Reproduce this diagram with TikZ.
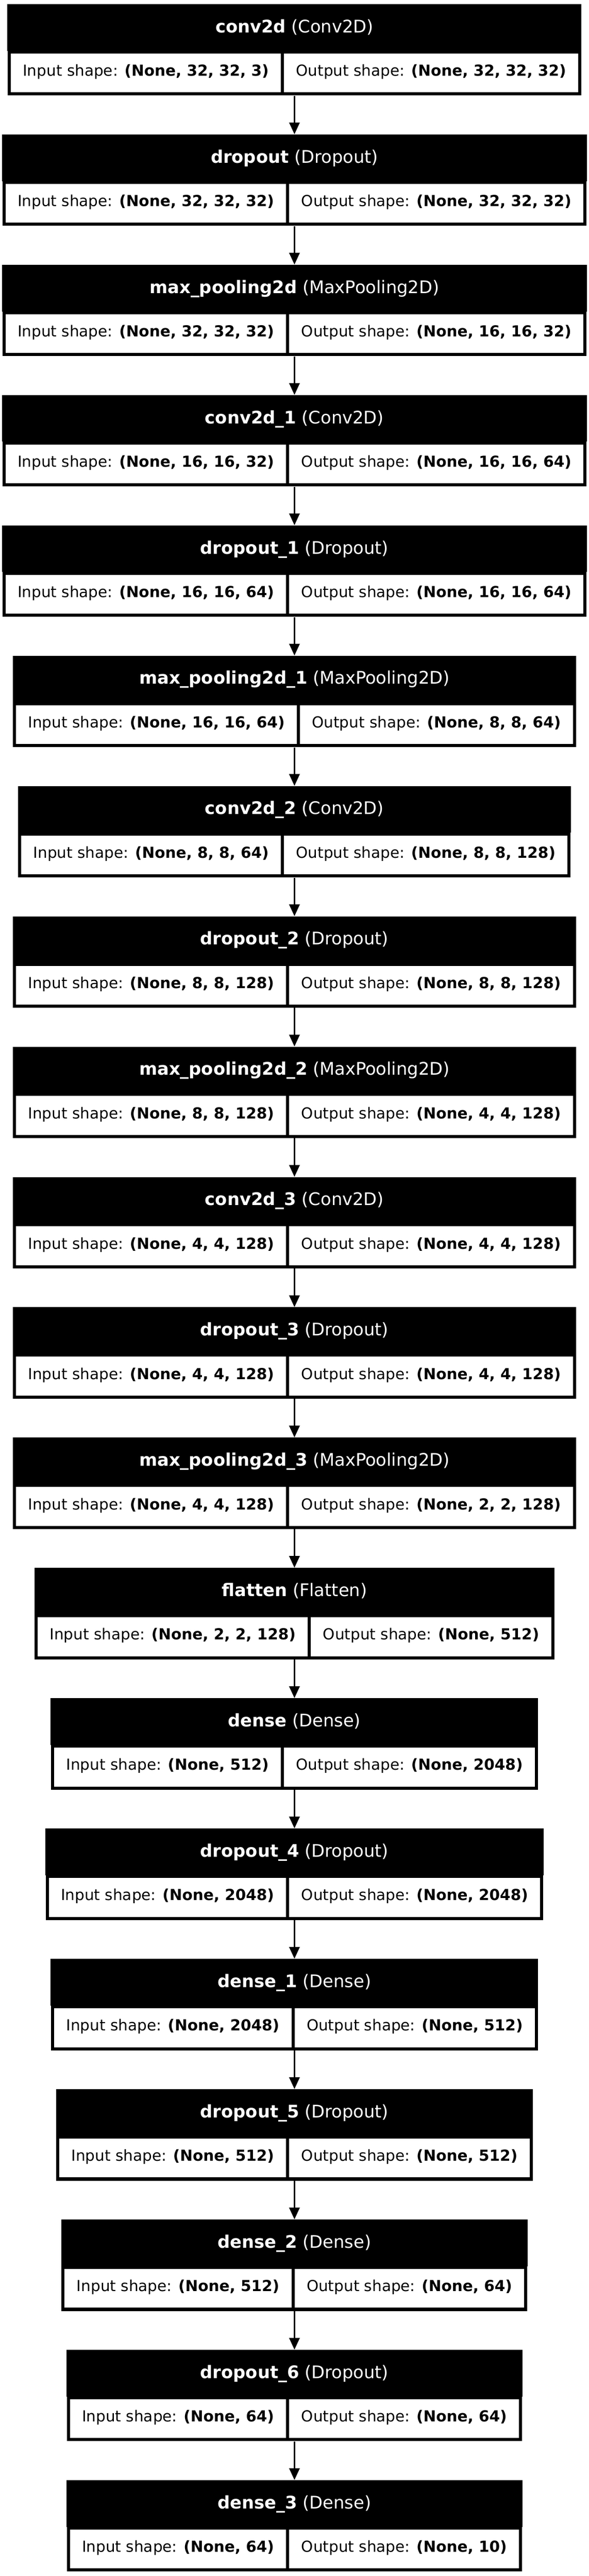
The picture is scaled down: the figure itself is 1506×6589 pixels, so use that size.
\documentclass[tikz,border=0pt]{standalone}
\usepackage{fontspec}
\setmainfont{DejaVu Sans}
\usetikzlibrary{arrows.meta,fit}

\tikzset{
    cell/.style={rectangle, fill=white, minimum height=35.8pt, inner xsep=11.1pt, inner ysep=0pt,
        text height=10.6pt, text depth=4.9pt, font=\fontsize{14}{17}\selectfont},
    shaperow/.style={fill=black, inner sep=2.88pt, column sep=2.88pt, ampersand replacement=\&},
    head/.style={rectangle, fill=black, inner sep=0pt},
    headtext/.style={text=white, inner sep=0pt, text height=12.6pt, text depth=3.2pt,
        font=\fontsize{16}{19}\selectfont},
    flow/.style={-{Triangle[length=10.8pt,width=9.6pt]}, line width=1.4pt},
}

\begin{document}
\begin{tikzpicture}[x=0.36pt, y=-0.36pt]

                \useasboundingbox (0,0) rectangle (1506,6589);

                \foreach \lname/\lclass/\lin/\lout [count=\i] in {
                    conv2d/Conv2D/{32, 32, 3}/{32, 32, 32},
                    dropout/Dropout/{32, 32, 32}/{32, 32, 32},
                    max\_pooling2d/MaxPooling2D/{32, 32, 32}/{16, 16, 32},
                    conv2d\_1/Conv2D/{16, 16, 32}/{16, 16, 64},
                    dropout\_1/Dropout/{16, 16, 64}/{16, 16, 64},
                    max\_pooling2d\_1/MaxPooling2D/{16, 16, 64}/{8, 8, 64},
                    conv2d\_2/Conv2D/{8, 8, 64}/{8, 8, 128},
                    dropout\_2/Dropout/{8, 8, 128}/{8, 8, 128},
                    max\_pooling2d\_2/MaxPooling2D/{8, 8, 128}/{4, 4, 128},
                    conv2d\_3/Conv2D/{4, 4, 128}/{4, 4, 128},
                    dropout\_3/Dropout/{4, 4, 128}/{4, 4, 128},
                    max\_pooling2d\_3/MaxPooling2D/{4, 4, 128}/{2, 2, 128},
                    flatten/Flatten/{2, 2, 128}/512,
                    dense/Dense/512/2048,
                    dropout\_4/Dropout/2048/2048,
                    dense\_1/Dense/2048/512,
                    dropout\_5/Dropout/512/512,
                    dense\_2/Dense/512/64,
                    dropout\_6/Dropout/64/64,
                    dense\_3/Dense/64/10} {
                    \pgfmathsetmacro\ytop{11+333.33*(\i-1)}
                    \matrix (S\i) [shaperow] at (753,\ytop+175.6) {
                        \node[cell] (I\i) {Input shape: \textbf{(None, \lin)}}; \&
                        \node[cell] (O\i) {Output shape: \textbf{(None, \lout)}}; \\
                    };
                    \node[head, fit={([yshift=-0.6pt]S\i.north west) ([yshift=42.4pt]S\i.north east)},
                        label={[headtext]center:\textbf{\lname} (\lclass)}] (H\i) {};
                }

                \foreach \i [evaluate=\i as \j using int(\i+1)] in {1,...,19}
                    \draw[flow] (S\i) -- (H\j);

            \end{tikzpicture}
\end{document}
